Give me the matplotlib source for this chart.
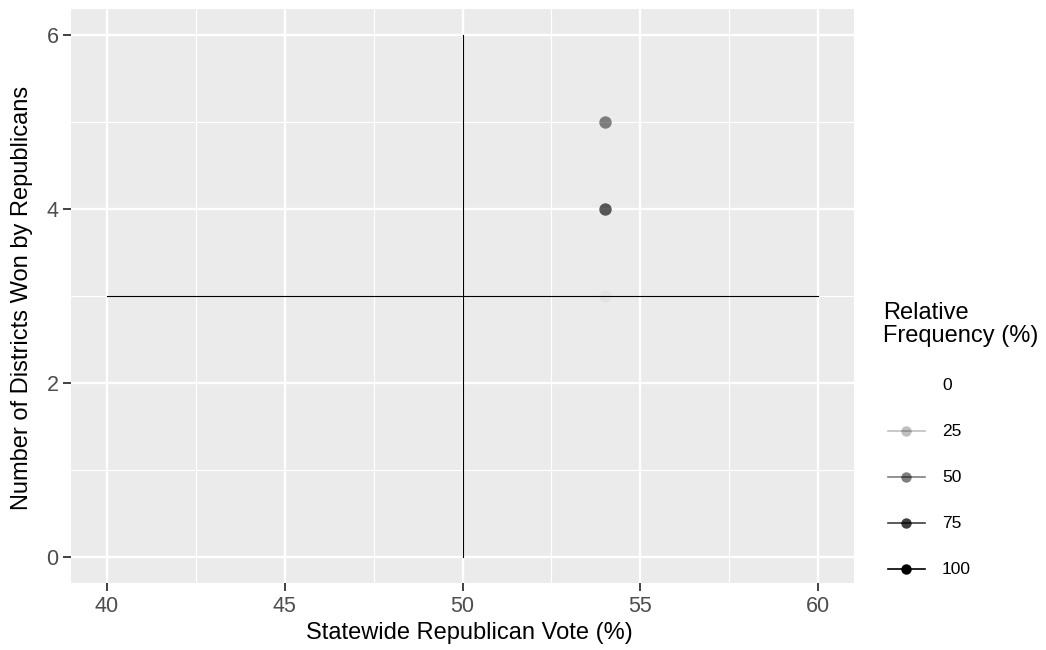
import matplotlib
matplotlib.use("Agg")
import matplotlib.pyplot as plt
from matplotlib.lines import Line2D

plt.rcParams['font.family'] = ['Liberation Sans', 'DejaVu Sans']

# Simulated outcomes: statewide vote vs districts won, with relative frequency (%)
vote_pct = [54, 54, 54]
districts_won = [5, 4, 3]
rel_freq = [47, 64, 3]

# Reference lines
even_vote = 50
half_seats = 3
vote_range = [40, 60]
seat_range = [0, 6]

legend_levels = [0, 25, 50, 75, 100]

W, H = 1046, 650
# panel edges in pixels
px_l, px_r, px_t, px_b = 71, 854, 9, 583
fig = plt.figure(figsize=(W / 100, H / 100), dpi=100)
ax = fig.add_axes([px_l / W, (H - px_b) / H, (px_r - px_l) / W, (px_b - px_t) / H])
ax.set_facecolor('#EBEBEB')

ax.set_xlim(39, 61)
ax.set_ylim(-0.3, 6.3)
ax.set_xticks([40, 45, 50, 55, 60])
ax.set_xticks([42.5, 47.5, 52.5, 57.5], minor=True)
ax.set_yticks([0, 2, 4, 6])
ax.set_yticks([1, 3, 5], minor=True)
ax.grid(True, which='major', color='white', linewidth=1.7, zorder=0)
ax.grid(True, which='minor', color='white', linewidth=0.85, zorder=0)
ax.set_axisbelow(True)
for s in ax.spines.values():
    s.set_visible(False)
ax.tick_params(which='major', length=6, width=1.3, color='#333333',
               labelsize=15.5, labelcolor='#4D4D4D', pad=3)
ax.tick_params(which='minor', length=0)

ax.plot([even_vote, even_vote], seat_range, color='black', linewidth=0.8, zorder=2)
ax.plot(vote_range, [half_seats, half_seats], color='black', linewidth=0.8, zorder=2)

for x, y, f in zip(vote_pct, districts_won, rel_freq):
    ax.scatter([x], [y], s=80, color='black', alpha=f / 100, linewidths=0, zorder=3)

ax.set_xlabel('Statewide Republican Vote (%)', fontsize=17, va='center')
ax.set_ylabel('Number of Districts Won by Republicans', fontsize=17, va='center')
ax.xaxis.set_label_coords((469 - px_l) / (px_r - px_l), -(633 - px_b) / (px_b - px_t))
ax.yaxis.set_label_coords(-(px_l - 22) / (px_r - px_l), (px_b - 298) / (px_b - px_t))

# legend drawn in figure pixel coordinates
fig.text(883 / W, 1 - 302 / H, 'Relative\nFrequency (%)', fontsize=17,
         ha='left', va='top', linespacing=1.05)
for i, lv in enumerate(legend_levels):
    ky = 1 - (385 + i * 46) / H
    fig.add_artist(Line2D([888 / W, 925 / W], [ky, ky], color='black',
                          alpha=lv / 100, linewidth=1.2))
    fig.add_artist(Line2D([906 / W], [ky], color='black', alpha=lv / 100,
                          marker='o', markersize=7.5, markeredgewidth=0, linestyle='none'))
    fig.text(942 / W, ky, str(lv), fontsize=12.5, ha='left', va='center')

fig.savefig('out.png', dpi=100)
